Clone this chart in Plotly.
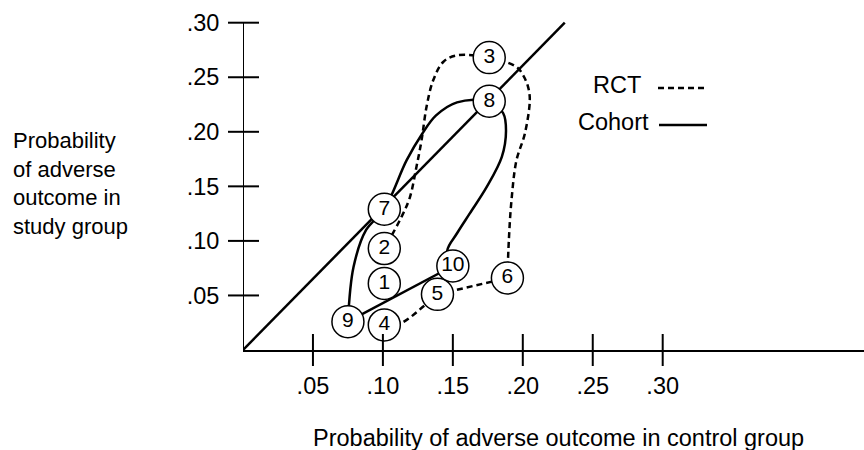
import plotly.graph_objects as go

# ---- data -------------------------------------------------------------
# numbered studies: (risk in control group, risk in study group)
study_labels = ["1", "2", "3", "4", "5", "6", "7", "8", "9", "10"]
control_risk = [0.101, 0.101, 0.176, 0.101, 0.139, 0.189, 0.101, 0.176, 0.075, 0.150]
study_risk = [0.061, 0.093, 0.268, 0.023, 0.051, 0.066, 0.129, 0.228, 0.026, 0.077]

# line of no effect
diag_x = [0.0, 0.230]
diag_y = [0.0, 0.300]

# cohort loop: 9 -> 7 -> 8 -> 10 (curved), then 10 -> 9 (straight)
cohort_curve_x = [0.075, 0.079, 0.088, 0.101, 0.117, 0.128, 0.138, 0.153, 0.176,
                  0.186, 0.188, 0.185, 0.174, 0.162, 0.153, 0.146, 0.150]
cohort_curve_y = [0.026, 0.076, 0.110, 0.129, 0.174, 0.198, 0.215, 0.227, 0.228,
                  0.217, 0.201, 0.177, 0.149, 0.125, 0.107, 0.091, 0.077]
cohort_link_x = [0.150, 0.075]
cohort_link_y = [0.077, 0.026]

# RCT path: 4 -> 5 -> 6 -> 3 -> 2
rct_a_x = [0.101, 0.112, 0.130, 0.139]
rct_a_y = [0.023, 0.024, 0.041, 0.051]
rct_b_x = [0.139, 0.189]
rct_b_y = [0.051, 0.066]
rct_c_x = [0.189, 0.190, 0.1919, 0.1955, 0.2014, 0.205, 0.2038, 0.2002, 0.1955, 0.176,
           0.1526, 0.1431, 0.1359, 0.1312, 0.1276, 0.124, 0.1193, 0.1133, 0.101]
rct_c_y = [0.066, 0.100, 0.137, 0.174, 0.198, 0.229, 0.241, 0.252, 0.2595, 0.268,
           0.270, 0.264, 0.247, 0.223, 0.192, 0.168, 0.140, 0.122, 0.093]

tick_vals = [0.05, 0.10, 0.15, 0.20, 0.25, 0.30]
tick_text = [".05", ".10", ".15", ".20", ".25", ".30"]

legend_names = ["RCT", "Cohort"]

# ---- layout geometry ---------------------------------------------------
W, H = 864, 450
ML, MR, MT, MB = 243, 0, 10, 100
PW, PH = W - ML - MR, H - MT - MB
X_MAX = PW / 1399.0
Y_MAX = PH / 1091.0

FONT = "Liberation Sans, Arial, Helvetica, sans-serif"
FS = 23.5
INK = "black"


def px_x(px):
    return (px - ML) / PW


def px_y(py):
    return 1 - (py - MT) / PH


fig = go.Figure()

line_solid = dict(color=INK, width=2.5)
line_dash = dict(color=INK, width=2.5, dash="6px,4px")

fig.add_trace(go.Scatter(x=diag_x, y=diag_y, mode="lines", line=line_solid,
                         hoverinfo="skip"))
fig.add_trace(go.Scatter(x=rct_a_x, y=rct_a_y, mode="lines",
                         line=dict(line_dash, shape="spline"), hoverinfo="skip"))
fig.add_trace(go.Scatter(x=rct_b_x, y=rct_b_y, mode="lines", line=line_dash,
                         hoverinfo="skip"))
fig.add_trace(go.Scatter(x=rct_c_x, y=rct_c_y, mode="lines",
                         line=dict(line_dash, shape="spline", smoothing=1.0),
                         hoverinfo="skip"))
fig.add_trace(go.Scatter(x=cohort_curve_x, y=cohort_curve_y, mode="lines",
                         line=dict(line_solid, shape="spline", smoothing=1.0),
                         hoverinfo="skip"))
fig.add_trace(go.Scatter(x=cohort_link_x, y=cohort_link_y, mode="lines",
                         line=line_solid, hoverinfo="skip"))

# numbered circles on top
fig.add_trace(go.Scatter(
    x=control_risk, y=study_risk, mode="markers+text",
    text=study_labels, textposition="middle center",
    textfont=dict(family=FONT, size=21, color=INK),
    marker=dict(size=32, color="white", line=dict(color=INK, width=1.5)),
    cliponaxis=False, hoverinfo="skip"))

shapes = []
# y axis line up to the top tick
shapes.append(dict(type="line", xref="x", yref="y", x0=0, x1=0, y0=0,
                   y1=tick_vals[-1], line=dict(color=INK, width=2)))
# ticks crossing both axes
for v in tick_vals:
    shapes.append(dict(type="line", xref="paper", yref="y",
                       x0=-15 / PW, x1=16 / PW, y0=v, y1=v,
                       line=dict(color=INK, width=2)))
    shapes.append(dict(type="line", xref="x", yref="paper",
                       x0=v, x1=v, y0=-16 / PH, y1=16 / PH,
                       line=dict(color=INK, width=2)))
# legend line samples
shapes.append(dict(type="line", xref="paper", yref="paper",
                   x0=px_x(658), x1=px_x(707), y0=px_y(88), y1=px_y(88),
                   line=line_dash))
shapes.append(dict(type="line", xref="paper", yref="paper",
                   x0=px_x(659), x1=px_x(707), y0=px_y(125), y1=px_y(125),
                   line=line_solid))

annotations = [
    dict(text="Probability<br>of adverse<br>outcome in<br>study group",
         xref="paper", yref="paper", x=px_x(11), y=px_y(183),
         xanchor="left", yanchor="middle", align="left", showarrow=False,
         font=dict(family=FONT, size=22, color=INK)),
    dict(text="Probability of adverse outcome in control group",
         xref="paper", yref="paper", x=px_x(558), y=px_y(438),
         xanchor="center", yanchor="middle", showarrow=False,
         font=dict(family=FONT, size=FS, color=INK)),
    dict(text=legend_names[0], xref="paper", yref="paper", x=px_x(643), y=px_y(85),
         xanchor="right", yanchor="middle", showarrow=False,
         font=dict(family=FONT, size=FS, color=INK)),
    dict(text=legend_names[1], xref="paper", yref="paper", x=px_x(651), y=px_y(122),
         xanchor="right", yanchor="middle", showarrow=False,
         font=dict(family=FONT, size=FS, color=INK)),
]

fig.update_layout(
    width=W, height=H,
    margin=dict(l=ML, r=MR, t=MT, b=MB, pad=0),
    paper_bgcolor="white", plot_bgcolor="white",
    showlegend=False,
    shapes=shapes, annotations=annotations,
    font=dict(family=FONT, size=FS, color=INK),
    xaxis=dict(range=[0, X_MAX], tickvals=tick_vals, ticktext=tick_text,
               ticks="outside", ticklen=14, tickcolor="rgba(0,0,0,0)",
               showgrid=False, zeroline=False, showline=True,
               linecolor=INK, linewidth=2, fixedrange=True,
               tickfont=dict(family=FONT, size=FS, color=INK)),
    yaxis=dict(range=[0, Y_MAX], tickvals=tick_vals, ticktext=tick_text,
               ticks="outside", ticklen=18, tickcolor="rgba(0,0,0,0)",
               showgrid=False, zeroline=False, showline=False, fixedrange=True,
               tickfont=dict(family=FONT, size=FS, color=INK)),
)

fig.write_html("out.html", config={"displayModeBar": False})
